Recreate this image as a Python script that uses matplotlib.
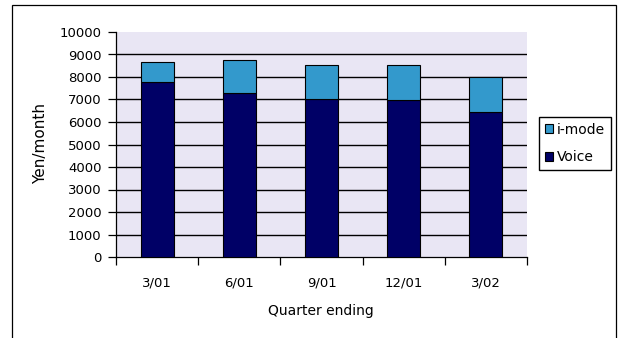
import matplotlib.pyplot as plt
from matplotlib.patches import Rectangle
import numpy as np

quarters = ["3/01", "6/01", "9/01", "12/01", "3/02"]
voice = [7760, 7270, 7020, 6960, 6430]
imode = [920, 1470, 1510, 1570, 1560]

plt.rcParams["font.family"] = ["DejaVu Sans"]

W, H = 618, 338
fig = plt.figure(figsize=(W / 100, H / 100), dpi=100)
ax = fig.add_axes([116 / W, 1 - 257 / H, 411 / W, 225 / H])
ax.set_facecolor("#E9E6F4")

x = np.arange(len(quarters))
ax.bar(x, voice, width=0.4, color="#000066", edgecolor="black", linewidth=0.8,
       label="Voice", zorder=3)
ax.bar(x, imode, width=0.4, bottom=voice, color="#3399CC", edgecolor="black",
       linewidth=0.8, label="i-mode", zorder=3)

for v in range(1000, 10000, 1000):
    ax.axhline(v, color="black", linewidth=1.0, zorder=1)

ax.set_xlim(-0.5, len(quarters) - 0.5)
ax.set_ylim(0, 10000)
ax.set_yticks(range(0, 10001, 1000))
ax.set_xticks(x)
ax.set_xticklabels(quarters, fontsize=9.5)
ax.set_xticks(np.arange(-0.5, len(quarters)), minor=True)
ax.tick_params(axis="x", which="major", length=0, pad=14)
ax.tick_params(axis="x", which="minor", length=6, direction="out", width=0.9)
ax.tick_params(axis="y", length=6, direction="out", width=0.9,
               labelsize=9.5, pad=4.5)
for s in ["top", "right"]:
    ax.spines[s].set_visible(False)
for s in ["left", "bottom"]:
    ax.spines[s].set_linewidth(0.9)

fig.text(321 / W, 1 - 311 / H, "Quarter ending", fontsize=10,
         ha="center", va="center")
fig.text(41 / W, 1 - 143 / H, "Yen/month", fontsize=11, rotation=90,
         ha="center", va="center")

handles, labels = ax.get_legend_handles_labels()
fig.legend(handles[::-1], labels[::-1], loc="upper left",
           bbox_to_anchor=(539 / W, 1 - 117 / H), fontsize=10,
           frameon=True, fancybox=False, edgecolor="black", framealpha=1,
           handlelength=0.6, handleheight=0.6, handletextpad=0.3,
           borderpad=0.4, labelspacing=1.0, borderaxespad=0)

fig.patches.append(Rectangle((12 / W, -0.02), 604 / W, 1 - 5 / H + 0.02,
                             transform=fig.transFigure, fill=False,
                             edgecolor="black", linewidth=0.9))

fig.savefig("out.png", dpi=100)
